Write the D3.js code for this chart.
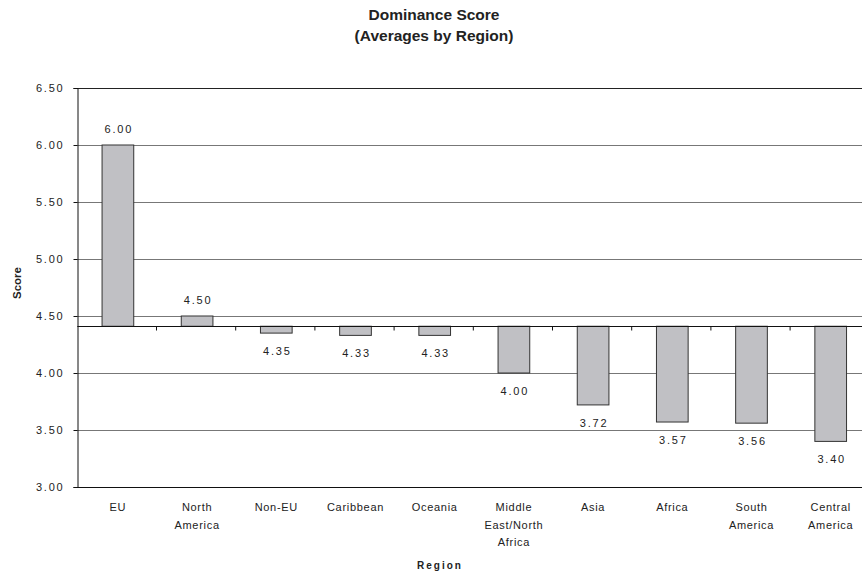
<!DOCTYPE html>
<html>
<head>
<meta charset="utf-8">
<script src="https://cdn.jsdelivr.net/npm/d3@7"></script>
<style>
  html, body { margin: 0; padding: 0; background: #fff; }
  svg { display: block; font-family: "Liberation Sans", Arial, sans-serif; }
</style>
</head>
<body>
<svg id="chart" width="862" height="577"></svg>
<script>
// Regional averages of the dominance score
const regions = [
  ["EU"], ["North", "America"], ["Non-EU"], ["Caribbean"], ["Oceania"],
  ["Middle", "East/North", "Africa"], ["Asia"], ["Africa"],
  ["South", "America"], ["Central", "America"]
];
const scores = [6.00, 4.50, 4.35, 4.33, 4.33, 4.00, 3.72, 3.57, 3.56, 3.40];
const yTicks = [3.00, 3.50, 4.00, 4.50, 5.00, 5.50, 6.00, 6.50];
const crossValue = 4.41; // value where the category axis crosses

const svg = d3.select("#chart");
const plotLeft = 77.3, plotRight = 869.3, plotTop = 88, plotBottom = 487;

const x = d3.scaleBand()
  .domain(d3.range(regions.length))
  .range([plotLeft, plotRight])
  .paddingInner(0).paddingOuter(0);

const y = d3.scaleLinear()
  .domain([d3.min(yTicks), d3.max(yTicks)])
  .range([plotBottom, plotTop]);

// Titles
svg.append("text")
  .attr("x", 434).attr("y", 20)
  .attr("text-anchor", "middle")
  .attr("font-weight", "bold").attr("font-size", 15.5)
  .attr("fill", "#222")
  .text("Dominance Score");
svg.append("text")
  .attr("x", 434).attr("y", 41)
  .attr("text-anchor", "middle")
  .attr("font-weight", "bold").attr("font-size", 15.5)
  .attr("fill", "#222")
  .text("(Averages by Region)");

// Horizontal gridlines
svg.append("g")
  .selectAll("line")
  .data(yTicks.filter(t => t !== d3.min(yTicks)))
  .join("line")
  .attr("x1", plotLeft).attr("x2", 862)
  .attr("y1", d => Math.round(y(d)) + 0.5)
  .attr("y2", d => Math.round(y(d)) + 0.5)
  .attr("stroke", d => d === d3.max(yTicks) ? "#222" : "#777")
  .attr("stroke-width", 1);

// Y axis
const yAxis = d3.axisLeft(y)
  .tickValues(yTicks)
  .tickFormat(d3.format(".2f"))
  .tickSize(4)
  .tickPadding(9);
const gy = svg.append("g")
  .attr("transform", `translate(${Math.round(plotLeft) + 0.5},0)`)
  .call(yAxis);
gy.select(".domain").attr("stroke", "#111");
gy.selectAll(".tick line").attr("stroke", "#111");
gy.selectAll(".tick text")
  .attr("font-size", 11).attr("fill", "#222")
  .attr("letter-spacing", "1.8px")
  .attr("font-family", "Liberation Sans, Arial, sans-serif");

// Bottom frame line
svg.append("line")
  .attr("x1", plotLeft).attr("x2", 862)
  .attr("y1", Math.round(plotBottom) + 0.5).attr("y2", Math.round(plotBottom) + 0.5)
  .attr("stroke", "#111");

// Bars drawn from the crossing value
const barW = x.bandwidth() * 0.4;
svg.append("g")
  .selectAll("rect")
  .data(scores)
  .join("rect")
  .attr("x", (d, i) => x(i) + (x.bandwidth() - barW) / 2 + 1)
  .attr("width", barW)
  .attr("y", d => y(Math.max(d, crossValue)))
  .attr("height", d => Math.abs(y(d) - y(crossValue)))
  .attr("fill", "#c0c0c4")
  .attr("stroke", "#333")
  .attr("stroke-width", 1);

// Category axis at the crossing value
const yc = Math.round(y(crossValue)) + 0.5;
svg.append("line")
  .attr("x1", plotLeft).attr("x2", 862)
  .attr("y1", yc).attr("y2", yc)
  .attr("stroke", "#111");
svg.append("g")
  .selectAll("line")
  .data(d3.range(1, regions.length))
  .join("line")
  .attr("x1", i => x(i)).attr("x2", i => x(i))
  .attr("y1", yc).attr("y2", yc + 4)
  .attr("stroke", "#111");

// Value labels
svg.append("g")
  .selectAll("text")
  .data(scores)
  .join("text")
  .attr("x", (d, i) => x(i) + x.bandwidth() / 2 + 2)
  .attr("y", d => d >= crossValue ? y(d) - 12 : y(d) + 22)
  .attr("text-anchor", "middle")
  .attr("font-size", 11)
  .attr("letter-spacing", "1.8px")
  .attr("fill", "#222")
  .text(d => d.toFixed(2));

// Category labels
const cat = svg.append("g")
  .selectAll("text")
  .data(regions)
  .join("text")
  .attr("x", (d, i) => x(i) + x.bandwidth() / 2 + 1)
  .attr("y", 511)
  .attr("text-anchor", "middle")
  .attr("font-size", 11)
  .attr("letter-spacing", "0.7px")
  .attr("fill", "#222");
cat.selectAll("tspan")
  .data(d => d)
  .join("tspan")
  .attr("x", function () { return d3.select(this.parentNode).attr("x"); })
  .attr("dy", (d, j) => j === 0 ? 0 : 17.5)
  .text(d => d);

// Axis titles
svg.append("text")
  .attr("transform", `translate(21,283) rotate(-90)`)
  .attr("text-anchor", "middle")
  .attr("font-weight", "bold").attr("font-size", 11.5)
  .attr("fill", "#222")
  .text("Score");
svg.append("text")
  .attr("x", 440).attr("y", 569)
  .attr("text-anchor", "middle")
  .attr("font-weight", "bold").attr("font-size", 10)
  .attr("letter-spacing", "2px")
  .attr("fill", "#222")
  .text("Region");
</script>
</body>
</html>
